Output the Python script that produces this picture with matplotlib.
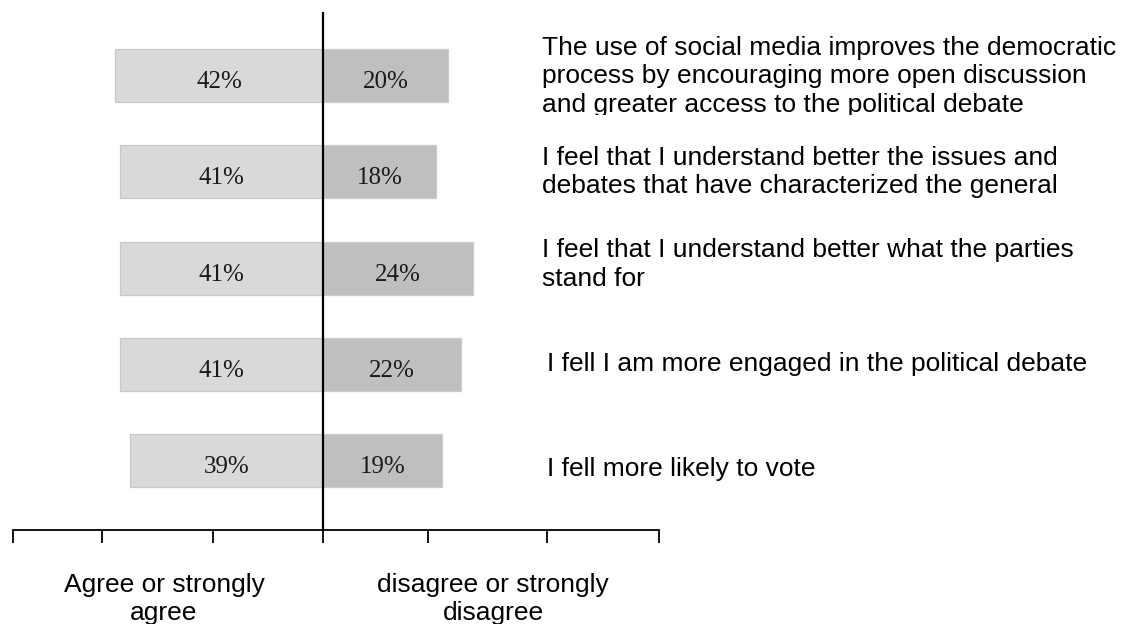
import matplotlib
matplotlib.use("Agg")
import matplotlib.pyplot as plt
import matplotlib.transforms as mtransforms

# datos
agree = [42, 41, 41, 41, 39]
disagree = [20, 18, 24, 22, 19]
statements = [
    ["The use of social media improves the democratic",
     "process by encouraging more open discussion",
     "and greater access to the political debate"],
    ["I feel that I understand better the issues and",
     "debates that have characterized the general"],
    ["I feel that I understand better what the parties",
     "stand for"],
    ["I fell I am more engaged in the political debate"],
    ["I fell more likely to vote"],
]
left_title = ["Agree or strongly", "agree"]
right_title = ["disagree or strongly", "disagree"]

# escala de cada lado (el original no usa la misma)
left_max = 62.6
right_max = 53.6
left_ticks = [22.2, 44.65, 62.6]
right_ticks = [0, 16.75, 35.74, 53.6]

W, H = 1124, 624
fig = plt.figure(figsize=(W / 100, H / 100), dpi=100)

top_px, axis_px = 13, 530
ax_b = (H - axis_px) / H
ax_h = (axis_px - top_px) / H
ax_l = fig.add_axes([13 / W, ax_b, 310 / W, ax_h])
ax_r = fig.add_axes([323 / W, ax_b, 336 / W, ax_h])

y = list(range(len(agree)))
ax_l.barh(y, agree, height=0.55, color="#d9d9d9", edgecolor="#c8c8c8", linewidth=0.9)
ax_r.barh(y, disagree, height=0.55, color="#bfbfbf", edgecolor="#cccccc", linewidth=0.9)

ax_l.set_xlim(left_max, 0)
ax_r.set_xlim(0, right_max)
for ax in (ax_l, ax_r):
    ax.set_ylim(4.716, -0.648)
    ax.set_yticks([])
    for s in ("top", "right", "left"):
        ax.spines[s].set_visible(False)
    ax.spines["bottom"].set_linewidth(1.3)
    ax.tick_params(axis="x", direction="out", length=9.4, width=1.3, labelbottom=False)
    ax.patch.set_alpha(0)

ax_l.set_xticks(left_ticks)
ax_r.set_xticks(right_ticks)
ax_r.spines["left"].set_visible(True)
ax_r.spines["left"].set_linewidth(1.6)
ax_r.spines["left"].set_zorder(5)

# etiquetas de porcentaje dentro de las barras
for ax, vals in ((ax_l, agree), (ax_r, disagree)):
    tr = mtransforms.offset_copy(ax.transData, fig=fig, y=-8.9, units="points")
    for i, v in enumerate(vals):
        ax.text(v / 2, i, f"{v}%", transform=tr, ha="center", va="baseline",
                fontsize=18, family="Liberation Serif", color="#1a1a1a")

# textos de la derecha
first_base = [55, 165, 257, 371, 476]
x_start = [542, 542, 542, 547, 547]
line_gap = 28.5
for k, lines in enumerate(statements):
    for j, line in enumerate(lines):
        yy = first_base[k] + j * line_gap
        t = fig.text(x_start[k] / W, 1 - yy / H, line, ha="left", va="baseline",
                     fontsize=19, family="Liberation Sans", color="black")
        if k == 0 and j == 2:
            # el cuadro de texto original recorta la ultima linea
            clip = mtransforms.Bbox.from_extents(0, H - (yy + 3), W, H)
            t.set_clip_box(clip)
            t.set_clip_on(True)

for cx, lines in ((164, left_title), (493, right_title)):
    for j, line in enumerate(lines):
        fig.text(cx / W, 1 - (592 + j * 28) / H, line, ha="center", va="baseline",
                 fontsize=19, family="Liberation Sans", color="black")

fig.savefig("out.png", dpi=100)
